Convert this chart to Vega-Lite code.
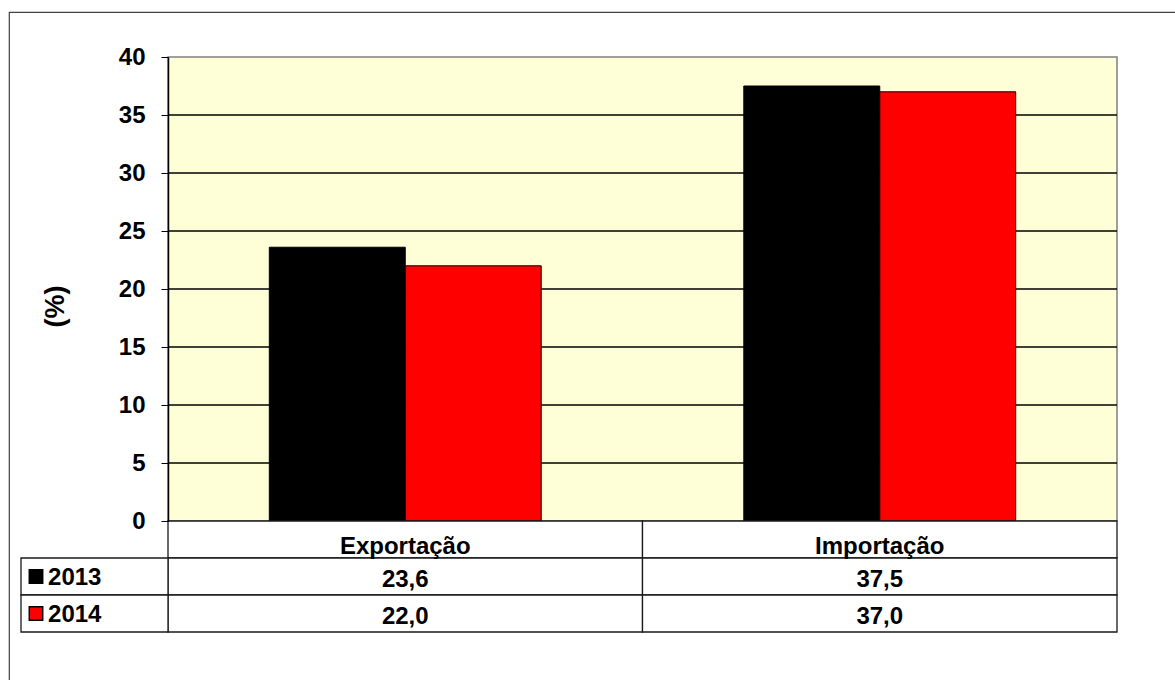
{
  "$schema": "https://vega.github.io/schema/vega-lite/v6.json",
  "width": 1166,
  "height": 668,
  "autosize": {"type": "none"},
  "padding": {"left": 9, "top": 12, "right": 0, "bottom": 0},
  "background": "white",
  "config": {
    "view": {"stroke": "#404040", "strokeWidth": 1.2, "strokeDash": [1166, 1834, 680, 10], "fill": "white"},
    "font": "Liberation Sans",
    "text": {"font": "Liberation Sans", "fontWeight": "bold", "fontSize": 24, "color": "black"},
    "locale": {
      "number": {"decimal": ",", "thousands": ".", "grouping": [3], "currency": ["", " €"]}
    }
  },
  "datasets": {
    "valores": [
      {"categoria": "Exportação", "ano": "2013", "valor": 23.6},
      {"categoria": "Exportação", "ano": "2014", "valor": 22.0},
      {"categoria": "Importação", "ano": "2013", "valor": 37.5},
      {"categoria": "Importação", "ano": "2014", "valor": 37.0}
    ],
    "grade": [{"v": 5}, {"v": 10}, {"v": 15}, {"v": 20}, {"v": 25}, {"v": 30}, {"v": 35}],
    "celulas": [
      {"categoria": "Exportação", "linha": "cab"},
      {"categoria": "Exportação", "linha": "2013"},
      {"categoria": "Exportação", "linha": "2014"},
      {"categoria": "Importação", "linha": "cab"},
      {"categoria": "Importação", "linha": "2013"},
      {"categoria": "Importação", "linha": "2014"}
    ],
    "categorias": [{"categoria": "Exportação"}, {"categoria": "Importação"}],
    "anos": [{"ano": "2013"}, {"ano": "2014"}]
  },
  "resolve": {"scale": {"x": "independent", "y": "independent"}},
  "layer": [
    {
      "description": "plot area background",
      "data": {"values": [{}]},
      "mark": {"type": "rect", "fill": "#FFFFD7", "stroke": "#808080", "strokeWidth": 1.5},
      "encoding": {
        "x": {"datum": 0, "type": "quantitative", "scale": {"domain": [0, 1], "range": [159, 1108]}, "axis": null},
        "x2": {"datum": 1},
        "y": {"datum": 0, "type": "quantitative", "scale": {"domain": [0, 40], "range": [509, 45]}, "axis": null},
        "y2": {"datum": 40}
      }
    },
    {
      "description": "horizontal gridlines",
      "data": {"name": "grade"},
      "mark": {"type": "rule", "color": "black", "strokeWidth": 1.5},
      "encoding": {
        "x": {"datum": 0, "type": "quantitative", "scale": {"domain": [0, 1], "range": [159, 1108]}, "axis": null},
        "x2": {"datum": 1},
        "y": {"field": "v", "type": "quantitative", "scale": {"domain": [0, 40], "range": [509, 45]}, "axis": null}
      }
    },
    {
      "description": "bars",
      "data": {"name": "valores"},
      "mark": {"type": "bar", "stroke": "black", "strokeWidth": 1},
      "encoding": {
        "x": {
          "field": "categoria", "type": "nominal",
          "scale": {"type": "band", "domain": ["Exportação", "Importação"], "range": [159, 1108], "paddingInner": 0.427, "paddingOuter": 0.2135},
          "axis": null
        },
        "xOffset": {"field": "ano", "type": "nominal", "scale": {"domain": ["2013", "2014"], "paddingInner": 0, "paddingOuter": 0}},
        "y": {
          "field": "valor", "type": "quantitative",
          "scale": {"domain": [0, 40], "range": [509, 45], "nice": false},
          "axis": {
            "orient": "left",
            "offset": -159,
            "zindex": 2,
            "values": [0, 5, 10, 15, 20, 25, 30, 35, 40],
            "grid": false,
            "domainColor": "black",
            "domainWidth": 1.5,
            "tickColor": "black",
            "tickSize": 7,
            "tickWidth": 1,
            "labelFont": "Liberation Sans",
            "labelFontSize": 24,
            "labelFontWeight": "bold",
            "labelColor": "black",
            "labelPadding": 16,
            "title": "(%)",
            "titleFont": "Liberation Sans",
            "titleFontSize": 27,
            "titleFontWeight": "bold",
            "titleColor": "black",
            "titlePadding": 49,
            "titleY": 294
          }
        },
        "color": {"field": "ano", "type": "nominal", "scale": {"domain": ["2013", "2014"], "range": ["#000000", "#FF0000"]}, "legend": null}
      }
    },
    {
      "description": "data table cells",
      "data": {"name": "celulas"},
      "mark": {"type": "rect", "fill": "white", "stroke": "#1a1a1a", "strokeWidth": 1.3},
      "encoding": {
        "x": {"field": "categoria", "type": "nominal", "scale": {"type": "band", "domain": ["Exportação", "Importação"], "range": [159, 1108], "paddingInner": 0, "paddingOuter": 0}, "axis": null},
        "y": {"field": "linha", "type": "nominal", "scale": {"type": "band", "domain": ["cab", "2013", "2014"], "range": [509, 620], "paddingInner": 0, "paddingOuter": 0}, "axis": null}
      }
    },
    {
      "description": "series label cells",
      "data": {"name": "anos"},
      "mark": {"type": "rect", "fill": "white", "stroke": "#1a1a1a", "strokeWidth": 1.3},
      "encoding": {
        "x": {"datum": "serie", "type": "nominal", "scale": {"type": "band", "domain": ["serie"], "range": [12, 159], "paddingInner": 0, "paddingOuter": 0}, "axis": null},
        "y": {"field": "ano", "type": "nominal", "scale": {"type": "band", "domain": ["cab", "2013", "2014"], "range": [509, 620], "paddingInner": 0, "paddingOuter": 0}, "axis": null}
      }
    },
    {
      "description": "category headers",
      "data": {"name": "categorias"},
      "mark": {"type": "text", "dy": 7},
      "encoding": {
        "x": {"field": "categoria", "type": "nominal", "scale": {"type": "band", "domain": ["Exportação", "Importação"], "range": [159, 1108], "paddingInner": 0, "paddingOuter": 0}, "axis": null},
        "y": {"datum": "cab", "type": "nominal", "scale": {"type": "band", "domain": ["cab", "2013", "2014"], "range": [509, 620], "paddingInner": 0, "paddingOuter": 0}, "axis": null},
        "text": {"field": "categoria"}
      }
    },
    {
      "description": "values in the table",
      "data": {"name": "valores"},
      "mark": {"type": "text", "dy": 3},
      "encoding": {
        "x": {"field": "categoria", "type": "nominal", "scale": {"type": "band", "domain": ["Exportação", "Importação"], "range": [159, 1108], "paddingInner": 0, "paddingOuter": 0}, "axis": null},
        "y": {"field": "ano", "type": "nominal", "scale": {"type": "band", "domain": ["cab", "2013", "2014"], "range": [509, 620], "paddingInner": 0, "paddingOuter": 0}, "axis": null},
        "text": {"field": "valor", "type": "quantitative", "format": ".1f"}
      }
    },
    {
      "description": "series names",
      "data": {"name": "anos"},
      "mark": {"type": "text", "align": "left", "dy": 1},
      "encoding": {
        "x": {"datum": "serie", "type": "nominal", "bandPosition": 0.184, "scale": {"type": "band", "domain": ["serie"], "range": [12, 159], "paddingInner": 0, "paddingOuter": 0}, "axis": null},
        "y": {"field": "ano", "type": "nominal", "scale": {"type": "band", "domain": ["cab", "2013", "2014"], "range": [509, 620], "paddingInner": 0, "paddingOuter": 0}, "axis": null},
        "text": {"field": "ano"}
      }
    },
    {
      "description": "legend keys",
      "data": {"name": "anos"},
      "mark": {"type": "square", "size": 180, "opacity": 1, "stroke": "black", "strokeWidth": 1.5, "filled": true},
      "encoding": {
        "x": {"datum": "serie", "type": "nominal", "bandPosition": 0.102, "scale": {"type": "band", "domain": ["serie"], "range": [12, 159], "paddingInner": 0, "paddingOuter": 0}, "axis": null},
        "y": {"field": "ano", "type": "nominal", "scale": {"type": "band", "domain": ["cab", "2013", "2014"], "range": [509, 620], "paddingInner": 0, "paddingOuter": 0}, "axis": null},
        "color": {"field": "ano", "type": "nominal", "scale": {"domain": ["2013", "2014"], "range": ["#000000", "#FF0000"]}, "legend": null}
      }
    }
  ]
}
